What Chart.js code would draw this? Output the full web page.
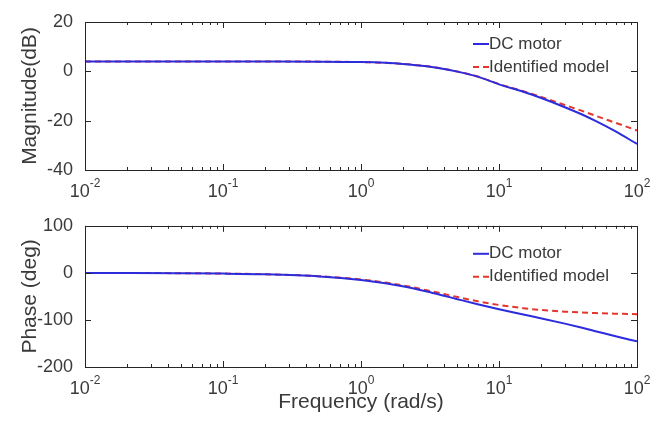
<!DOCTYPE html>
<html>
<head>
<meta charset="utf-8">
<script src="https://cdn.jsdelivr.net/npm/chart.js@4.4.0/dist/chart.umd.min.js"></script>
<style>
  body { margin: 0; background: #fff; }
  #wrap { position: relative; width: 650px; height: 423px; }
  canvas { position: absolute; left: 0; }
</style>
</head>
<body>
<div id="wrap">
  <canvas id="magChart" width="650" height="211" style="top:0"></canvas>
  <canvas id="phaseChart" width="650" height="212" style="top:211px"></canvas>
</div>
<script>
// frequency points (rad/s) and the values
const freq = [0.01, 0.02, 0.05, 0.1, 0.2, 0.5, 1, 1.5, 2, 3, 4, 5, 7, 10, 15, 20, 30, 40, 50, 70, 100];
const magMotor = [4.0, 4.0, 4.0, 4.0, 3.99, 3.93, 3.74, 3.43, 3.02, 2.05, 0.97, -0.12, -2.14, -5.27, -8.3, -10.73, -14.54, -17.51, -20.11, -24.38, -29.44];
const magModel = [4.0, 4.0, 4.0, 4.0, 3.99, 3.93, 3.74, 3.43, 3.03, 2.06, 0.99, -0.09, -2.09, -5.16, -8.06, -10.31, -13.65, -16.04, -17.99, -20.89, -23.97];
const phaseMotor = [-0.15, -0.31, -0.77, -1.52, -3.04, -7.58, -14.95, -21.92, -28.39, -39.6, -48.63, -55.88, -66.6, -77.22, -88.46, -96.31, -107.87, -116.71, -123.87, -134.74, -145.49];
const phaseModel = [-0.14, -0.29, -0.72, -1.43, -2.86, -7.13, -14.04, -20.56, -26.57, -36.87, -45.0, -51.34, -60.26, -68.2, -75.07, -78.69, -82.41, -84.29, -85.43, -86.73, -87.71];

const seriesNames = ['DC motor', 'Identified model'];
const xTickValues = [0.01, 0.1, 1, 10, 100];
const xTickExponents = ['-2', '-1', '0', '1', '2'];
const magTicks = [20, 0, -20, -40];
const phaseTicks = [100, 0, -100, -200];

const BLUE = '#2c2cdc';
const RED = '#e4362c';
const TEXT = '#3a3a3a';
const FONT = "'Liberation Sans', Arial, sans-serif";

Chart.defaults.font.family = FONT;
Chart.defaults.color = TEXT;

// box, inward MATLAB style ticks, 10^n labels and the legend
const framePlugin = {
    id: 'frame',
    afterDatasetsDraw(chart, args, opts) {
        const { ctx, chartArea: a } = chart;
        const x = chart.scales.x, y = chart.scales.y;
        ctx.save();
        ctx.strokeStyle = '#262626';
        ctx.lineWidth = 1;
        ctx.beginPath();
        for (let k = -2; k < 2; k++) {
            for (let m = 1; m < 10; m++) {
                const px = Math.round(x.getPixelForValue(m * Math.pow(10, k))) + 0.5;
                const len = m === 1 ? 6 : 3;
                ctx.moveTo(px, a.bottom); ctx.lineTo(px, a.bottom - len);
                ctx.moveTo(px, a.top); ctx.lineTo(px, a.top + len);
            }
        }
        opts.yTicks.forEach(v => {
            const py = Math.round(y.getPixelForValue(v)) + 0.5;
            ctx.moveTo(a.left, py); ctx.lineTo(a.left + 6, py);
            ctx.moveTo(a.right, py); ctx.lineTo(a.right - 6, py);
        });
        ctx.stroke();
        ctx.strokeRect(Math.round(a.left) + 0.5, Math.round(a.top) + 0.5,
            Math.round(a.right - a.left), Math.round(a.bottom - a.top));

        // x tick labels with superscript exponents
        ctx.fillStyle = TEXT;
        ctx.textBaseline = 'alphabetic';
        ctx.textAlign = 'left';
        xTickValues.forEach((v, i) => {
            const px = x.getPixelForValue(v);
            ctx.font = '18px ' + FONT;
            const wBase = ctx.measureText('10').width;
            ctx.font = '12px ' + FONT;
            const wExp = ctx.measureText(xTickExponents[i]).width;
            const start = px - (wBase + wExp) / 2;
            ctx.font = '18px ' + FONT;
            ctx.fillText('10', start, a.bottom + 27);
            ctx.font = '12px ' + FONT;
            ctx.fillText(xTickExponents[i], start + wBase, a.bottom + 17);
        });

        // legend
        const lx = 473, ly = a.top + opts.legendTop;
        ctx.font = '17px ' + FONT;
        ctx.textBaseline = 'middle';
        ctx.lineWidth = 2;
        chart.data.datasets.forEach((ds, i) => {
            const yy = ly + i * 23;
            ctx.strokeStyle = ds.borderColor;
            ctx.setLineDash(ds.borderDash || []);
            ctx.beginPath();
            ctx.moveTo(lx, yy); ctx.lineTo(lx + 16, yy);
            ctx.stroke();
            ctx.fillText(ds.label, lx + 16, yy);
        });
        ctx.restore();
    }
};

function makeChart(id, motor, model, yTicks, yTitle, xTitle, pad, xHeight, legendTop) {
    const ctx = document.getElementById(id).getContext('2d');
    return new Chart(ctx, {
        type: 'line',
        data: {
            datasets: [{
                label: seriesNames[0],
                data: freq.map((f, i) => ({ x: f, y: motor[i] })),
                borderColor: BLUE,
                borderWidth: 2,
                pointRadius: 0,
                cubicInterpolationMode: 'monotone',
                fill: false
            }, {
                label: seriesNames[1],
                data: freq.map((f, i) => ({ x: f, y: model[i] })),
                borderColor: RED,
                borderWidth: 2,
                borderDash: [6, 4],
                pointRadius: 0,
                cubicInterpolationMode: 'monotone',
                fill: false
            }]
        },
        options: {
            responsive: false,
            animation: false,
            layout: { padding: { top: pad, right: 13, left: 0, bottom: 0 } },
            plugins: {
                legend: { display: false },
                tooltip: { enabled: false },
                frame: { yTicks: yTicks, legendTop: legendTop }
            },
            scales: {
                x: {
                    type: 'logarithmic',
                    min: 0.01,
                    max: 100,
                    grid: { display: false },
                    border: { display: false },
                    ticks: { display: false },
                    title: {
                        display: !!xTitle,
                        text: xTitle,
                        font: { size: 21 },
                        color: TEXT,
                        padding: { top: 0, bottom: 8 }
                    },
                    afterFit: s => { s.height = xHeight; }
                },
                y: {
                    min: yTicks[yTicks.length - 1],
                    max: yTicks[0],
                    afterBuildTicks: s => { s.ticks = yTicks.map(v => ({ value: v })); },
                    grid: { display: false },
                    border: { display: false },
                    ticks: { font: { size: 18 }, color: TEXT, padding: 4 },
                    title: {
                        display: true,
                        text: yTitle,
                        font: { size: 21 },
                        color: TEXT,
                        padding: { top: 18, bottom: 0 }
                    },
                    afterFit: s => { s.width = 85; }
                }
            }
        },
        plugins: [framePlugin]
    });
}

makeChart('magChart', magMotor, magModel, magTicks, 'Magnitude(dB)', '', 22, 41, 22);
makeChart('phaseChart', phaseMotor, phaseModel, phaseTicks, 'Phase (deg)', 'Frequency (rad/s)', 12, 56, 28);
</script>
</body>
</html>
